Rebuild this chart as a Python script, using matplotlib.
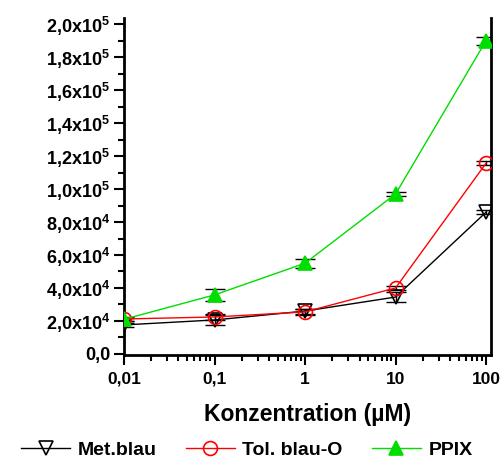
import matplotlib
matplotlib.use("Agg")
import matplotlib.pyplot as plt
from matplotlib.ticker import FixedLocator, MultipleLocator, FixedFormatter, NullFormatter

plt.rcParams["font.family"] = ["Liberation Sans", "DejaVu Sans"]
plt.rcParams["font.weight"] = "bold"
plt.rcParams["mathtext.fontset"] = "custom"
plt.rcParams["mathtext.rm"] = "Liberation Sans:bold"
plt.rcParams["mathtext.it"] = "Liberation Sans:bold"
plt.rcParams["mathtext.bf"] = "Liberation Sans:bold"

conc = [0.01, 0.1, 1, 10, 100]

met_blau = [17600, 20600, 26000, 34500, 86000]
met_blau_err = [1200, 3000, 1500, 3000, 1000]

tol_blau = [21200, 22400, 25500, 40000, 115700]
tol_blau_err = [1200, 2000, 2000, 1500, 1200]

ppix = [21000, 35800, 55000, 97000, 190000]
ppix_err = [1000, 3600, 2700, 1500, 2400]

y_ticks = [0, 2e4, 4e4, 6e4, 8e4, 1e5, 1.2e5, 1.4e5, 1.6e5, 1.8e5, 2e5]
y_labels = ["0,0", "2,0x10$^4$", "4,0x10$^4$", "6,0x10$^4$", "8,0x10$^4$",
            "1,0x10$^5$", "1,2x10$^5$", "1,4x10$^5$", "1,6x10$^5$",
            "1,8x10$^5$", "2,0x10$^5$"]
x_labels = ["0,01", "0,1", "1", "10", "100"]

fig = plt.figure(figsize=(5.04, 4.67), dpi=100)
ax = fig.add_axes([0.246, 0.240, 0.728, 0.721])

series = [
    (met_blau, met_blau_err, "Met.blau", "black", "v", "none"),
    (tol_blau, tol_blau_err, "Tol. blau-O", "red", "o", "none"),
    (ppix, ppix_err, "PPIX", "#00dd00", "^", "#00dd00"),
]
handles = []
for vals, err, label, col, mk, fc in series:
    ax.errorbar(conc, vals, yerr=err, fmt="none", ecolor="black",
                elinewidth=1, capsize=7.5, capthick=1, zorder=2)
    h, = ax.plot(conc, vals, color=col, lw=1, marker=mk, markersize=10,
                 markerfacecolor=fc, markeredgecolor=col,
                 markeredgewidth=1.2, label=label, zorder=3)
    handles.append(h)

ax.set_xscale("log")
ax.set_xlim(0.01, 113)
ax.set_ylim(-600, 2.036e5)

ax.xaxis.set_major_locator(FixedLocator(conc))
ax.xaxis.set_major_formatter(FixedFormatter(x_labels))
ax.xaxis.set_minor_formatter(NullFormatter())
ax.yaxis.set_major_locator(FixedLocator(y_ticks))
ax.yaxis.set_major_formatter(FixedFormatter(y_labels))
ax.yaxis.set_minor_locator(MultipleLocator(1e4))

ax.spines["top"].set_visible(False)
for s in ["left", "bottom", "right"]:
    ax.spines[s].set_linewidth(2)
ax.tick_params(which="major", direction="out", length=7, width=1.5, pad=3)
ax.tick_params(which="minor", direction="out", length=4, width=1.5)
ax.tick_params(axis="x", labelsize=12.5, pad=5)
ax.tick_params(axis="y", labelsize=13, right=False)
for lab in ax.get_xticklabels() + ax.get_yticklabels():
    lab.set_fontweight("bold")

ax.set_xlabel("Konzentration (µM)", fontsize=16.5, fontweight="bold", labelpad=12)

fig.legend(handles=handles, loc="center", bbox_to_anchor=(0.49, 0.036),
           ncol=3, frameon=False, handlelength=2.5, columnspacing=1.5,
           handletextpad=0.4, prop={"weight": "bold", "size": 14})

fig.savefig("out.png", dpi=100)
